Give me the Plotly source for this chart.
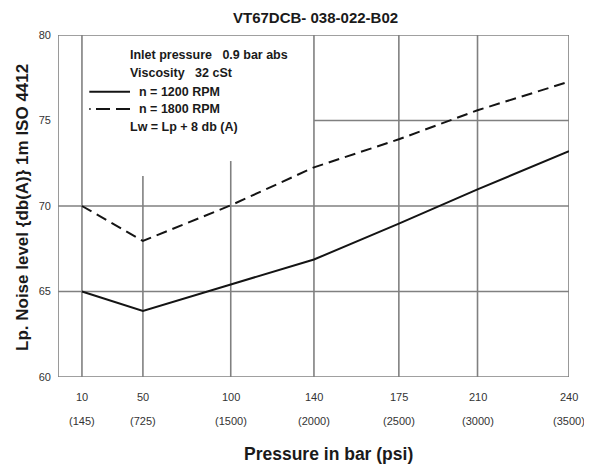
import plotly.graph_objects as go

# ---- data ----
pressure_bar = ["10", "50", "100", "140", "175", "210", "240"]
pressure_psi = ["(145)", "(725)", "(1500)", "(2000)", "(2500)", "(3000)", "(3500)"]
noise_1200 = [65.0, 63.86, 65.41, 66.87, 68.97, 70.97, 73.2]
noise_1800 = [70.0, 67.96, 70.04, 72.26, 73.9, 75.6, 77.27]
y_ticks = [60, 65, 70, 75, 80]

# ---- layout (axis slot positions of the irregular pressure grid) ----
X_SLOT = [0, 0.751, 1.833, 2.858, 3.904, 4.873, 6]
X_MIN = -0.295
Y_MIN, Y_MAX = 60, 80

OFF = 8  # page body margin
W, H = 592 - OFF, 468 - OFF
L, R, T, B = 58 - OFF, 23, 35 - OFF, 91
PW, PH = W - L - R, H - T - B

def px(x):
    return (x - OFF - L) / PW

def py(y):
    return (H - B - (y - OFF)) / PH

GRID = "#808080"
LINE = "#141414"
FONT = "Liberation Sans, Arial, sans-serif"

fig = go.Figure()
fig.add_trace(go.Scatter(x=X_SLOT, y=noise_1200, mode="lines",
                         line=dict(color=LINE, width=2), name="n = 1200 RPM",
                         showlegend=False))
fig.add_trace(go.Scatter(x=X_SLOT, y=noise_1800, mode="lines",
                         line=dict(color=LINE, width=2, dash="11px,6px"),
                         name="n = 1800 RPM", showlegend=False))

shapes = []
def gline(x0, y0, x1, y1):
    shapes.append(dict(type="line", xref="x", yref="y", x0=x0, y0=y0, x1=x1, y1=y1,
                       line=dict(color=GRID, width=1.6), layer="below"))

# border
gline(X_MIN, Y_MIN, X_SLOT[-1], Y_MIN)
gline(X_MIN, Y_MAX, X_SLOT[-1], Y_MAX)
gline(X_MIN, Y_MIN, X_MIN, Y_MAX)
# vertical grid lines (legend region leaves some short)
v_tops = [80, 71.75, 72.63, 80, 80, 80, 80]
for xs, top in zip(X_SLOT, v_tops):
    gline(xs, Y_MIN, xs, top)
# horizontal grid lines
gline(X_MIN, 65, X_SLOT[-1], 65)
gline(X_MIN, 70, X_SLOT[-1], 70)
gline(X_SLOT[3], 75, X_SLOT[-1], 75)

# legend sample lines
def pline(x0, x1, y, dash=None):
    ln = dict(color=LINE, width=2)
    if dash:
        ln["dash"] = dash
    shapes.append(dict(type="line", xref="paper", yref="paper",
                       x0=px(x0), x1=px(x1), y0=py(y), y1=py(y), line=ln))
pline(89.3, 130, 91.7)
pline(89.3, 90.6, 109)
pline(96, 130, 109, "14px,6px")

annotations = []
def txt(x, y, s, size=12, bold=True, anchor="left", color="#1a1a1a"):
    annotations.append(dict(xref="paper", yref="paper", x=px(x), y=py(y),
                            text=f"<b>{s}</b>" if bold else s, showarrow=False,
                            xanchor=anchor, yanchor="middle",
                            font=dict(family=FONT, size=size, color=color)))

# title
txt(315, 17.5, "VT67DCB- 038-022-B02", size=15, anchor="center")

NB = "\u00a0"
txt(128.3, 55, f"Inlet pressure{NB*3}0.9 bar abs", size=12.5)
txt(128.3, 72.7, f"Viscosity{NB*3}32 cSt", size=12.5)
txt(137.3, 91.7, "n = 1200 RPM", size=12.5)
txt(137.3, 109, "n = 1800 RPM", size=12.5)
txt(128.3, 126.7, "Lw = Lp + 8 db (A)", size=12.5)

# x tick labels (bar and psi)
for xs, b, p in zip(X_SLOT, pressure_bar, pressure_psi):
    annotations.append(dict(xref="x", yref="paper", x=xs, y=py(397), text=b,
                            showarrow=False, xanchor="center", yanchor="middle",
                            font=dict(family=FONT, size=11, color="#333333")))
    annotations.append(dict(xref="x", yref="paper", x=xs, y=py(421), text=p,
                            showarrow=False, xanchor="center", yanchor="middle",
                            font=dict(family=FONT, size=11, color="#333333")))

# axis titles
txt(328, 454, "Pressure in bar (psi)", size=17.5, anchor="center")
annotations.append(dict(xref="paper", yref="paper", x=px(23), y=py(208),
                        text="<b>Lp. Noise level {db(A)} 1m ISO 4412</b>",
                        textangle=-90, showarrow=False, xanchor="center",
                        yanchor="middle",
                        font=dict(family=FONT, size=17, color="#1a1a1a")))

fig.update_layout(
    width=W, height=H,
    margin=dict(l=L, r=R, t=T, b=B),
    paper_bgcolor="white", plot_bgcolor="white",
    xaxis=dict(range=[X_MIN, X_SLOT[-1]], showgrid=False, zeroline=False,
               showline=False, showticklabels=False, ticks=""),
    yaxis=dict(range=[Y_MIN, Y_MAX], tickvals=y_ticks, showgrid=False,
               zeroline=False, showline=False, ticks="", ticklabelstandoff=6,
               tickfont=dict(family=FONT, size=11, color="#333333")),
    shapes=shapes, annotations=annotations, showlegend=False,
)

fig.write_html("out.html")
